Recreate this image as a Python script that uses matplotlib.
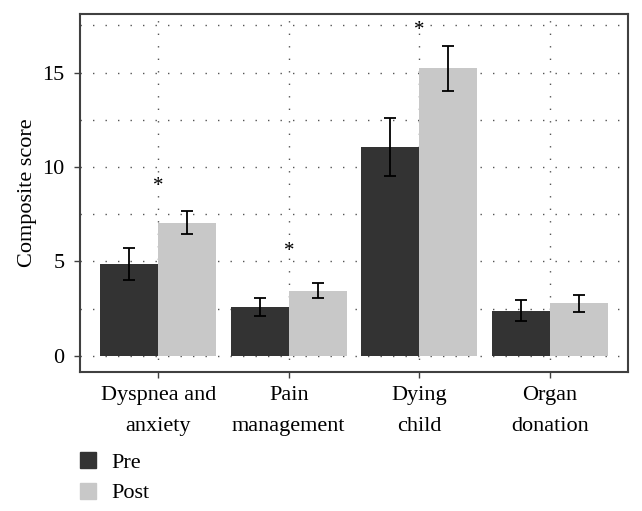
import matplotlib
matplotlib.use("Agg")
import matplotlib.pyplot as plt
import numpy as np
from matplotlib.patches import Patch

categories = ["Dyspnea and\nanxiety", "Pain\nmanagement", "Dying\nchild", "Organ\ndonation"]
pre_values = [4.86, 2.60, 11.08, 2.40]
pre_errors = [0.85, 0.46, 1.53, 0.57]
post_values = [7.06, 3.46, 15.23, 2.79]
post_errors = [0.62, 0.38, 1.20, 0.44]
star_y = [9.25, 5.8, 17.5]
star_idx = [0, 1, 2]
series_labels = ["Pre", "Post"]
yticks = [0, 5, 10, 15]

plt.rcParams['font.family'] = ['Liberation Serif', 'DejaVu Serif']

fig = plt.figure(figsize=(6.42, 5.11), dpi=100)
ax = fig.add_axes([80/642, 1-372/511, (628-80)/642, (372-14)/511])

x = np.arange(len(categories))
w = 0.445
pre_c = "#333333"
post_c = "#c8c8c8"
ax.bar(x - w/2, pre_values, w, color=pre_c, zorder=2)
ax.bar(x + w/2, post_values, w, color=post_c, zorder=2)
ax.errorbar(x - w/2, pre_values, yerr=pre_errors, fmt='none', ecolor='black',
            elinewidth=1.3, capsize=4, capthick=1.3, zorder=3)
ax.errorbar(x + w/2, post_values, yerr=post_errors, fmt='none', ecolor='black',
            elinewidth=1.3, capsize=4, capthick=1.3, zorder=3)
for i, yv in zip(star_idx, star_y):
    ax.annotate("*", xy=(x[i], yv), xytext=(0, -3.5), textcoords='offset points',
                ha='center', va='center', fontsize=15, zorder=4)

ax.set_xlim(-0.6, 3.6)
ax.set_ylim(-0.85, 18.1)
ax.set_yticks(yticks)
ax.set_yticks([2.5, 7.5, 12.5, 17.5], minor=True)
ax.set_xticks(x)
ax.set_xticklabels(categories, fontsize=16, linespacing=1.9)
ax.tick_params(axis='y', which='minor', length=0)
ax.tick_params(axis='both', which='major', labelsize=16, length=4, width=1, color='#404040')
ax.tick_params(axis='x', pad=6)
ax.tick_params(axis='y', pad=7)
ax.grid(True, which='both', linestyle=(0, (1, 8)), color='#555555', linewidth=1.0, zorder=0)
ax.set_axisbelow(True)
for s in ax.spines.values():
    s.set_color('#404040')
    s.set_linewidth(1.5)
ax.set_ylabel("Composite score", fontsize=16, labelpad=4)

handles = [Patch(color=pre_c, label=series_labels[0]), Patch(color=post_c, label=series_labels[1])]
fig.legend(handles=handles, loc='upper left', bbox_to_anchor=(80/642, 1-452/511),
           frameon=False, fontsize=16, handlelength=0.72, handleheight=0.72,
           handletextpad=0.68, labelspacing=0.45, borderaxespad=0, borderpad=0)

fig.savefig("out.png", dpi=100)
